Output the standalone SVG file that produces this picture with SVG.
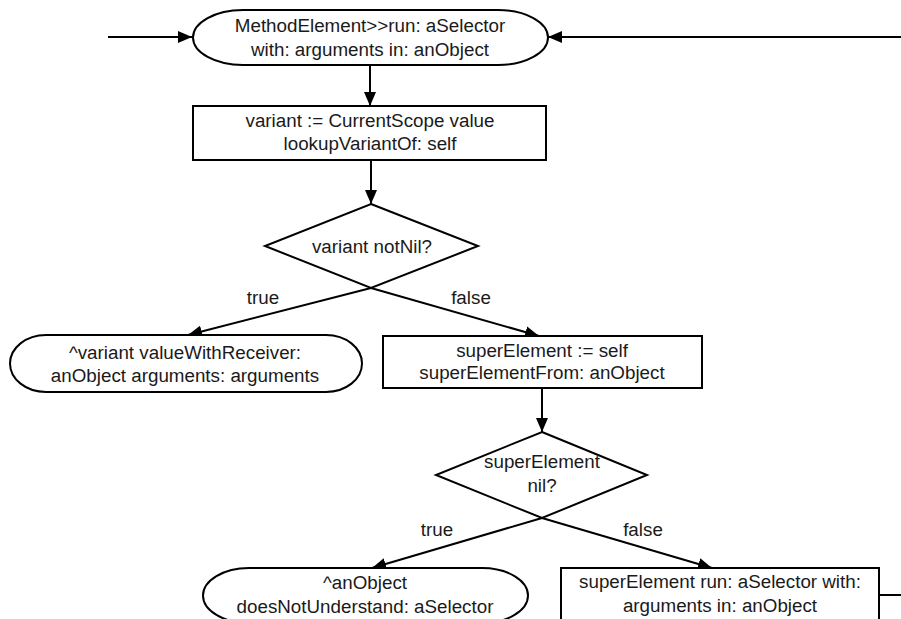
<svg xmlns="http://www.w3.org/2000/svg" width="901" height="619" viewBox="0 0 901 619">
  <defs>
    <style>
      .shape { fill: #ffffff; stroke: #000000; stroke-width: 2; }
      .edge { fill: none; stroke: #000000; stroke-width: 2; }
      .lbl { font-family: "Liberation Sans", Arial, Helvetica, sans-serif; font-size: 18.8px; fill: #1a1a1a; text-anchor: middle; }
    </style>
    <marker id="arrow" viewBox="0 0 14 12" refX="14" refY="6" markerWidth="14" markerHeight="12" markerUnits="userSpaceOnUse" orient="auto">
      <path d="M0,0 L14,6 L0,12 Z" fill="#000000"/>
    </marker>
  </defs>

  <rect width="901" height="619" fill="#ffffff"/>

  <!-- connectors -->
  <g id="connectors">
    <line class="edge" x1="108" y1="37" x2="192" y2="37" marker-end="url(#arrow)"/>
    <line class="edge" x1="901" y1="37" x2="548" y2="37" marker-end="url(#arrow)"/>
    <line class="edge" x1="370" y1="65" x2="370" y2="106" marker-end="url(#arrow)"/>
    <line class="edge" x1="371" y1="160" x2="371" y2="204" marker-end="url(#arrow)"/>
    <line class="edge" x1="371" y1="288" x2="188" y2="335" marker-end="url(#arrow)"/>
    <line class="edge" x1="371" y1="288" x2="539" y2="336" marker-end="url(#arrow)"/>
    <line class="edge" x1="542" y1="388" x2="542" y2="432" marker-end="url(#arrow)"/>
    <line class="edge" x1="542" y1="518" x2="372" y2="568" marker-end="url(#arrow)"/>
    <line class="edge" x1="542" y1="518" x2="712" y2="568" marker-end="url(#arrow)"/>
    <line class="edge" x1="879" y1="595" x2="901" y2="595"/>
    <text class="lbl" x="263" y="304">true</text>
    <text class="lbl" x="471" y="304">false</text>
    <text class="lbl" x="437" y="536">true</text>
    <text class="lbl" x="643" y="536">false</text>
  </g>

  <!-- start terminal -->
  <g id="start">
    <rect class="shape" x="193" y="10" width="355" height="55" rx="50" ry="27.5"/>
    <text class="lbl" x="370" y="32">MethodElement&gt;&gt;run: aSelector</text>
    <text class="lbl" x="370" y="56">with: arguments in: anObject</text>
  </g>

  <!-- variant lookup -->
  <g id="lookupVariant">
    <rect class="shape" x="193" y="106" width="353" height="54"/>
    <text class="lbl" x="370" y="127">variant := CurrentScope value</text>
    <text class="lbl" x="370" y="150">lookupVariantOf: self</text>
  </g>

  <!-- decision: variant notNil? -->
  <g id="variantNotNil">
    <polygon class="shape" points="371,204 478,246 371,288 265,246"/>
    <text class="lbl" x="372" y="253">variant notNil?</text>
  </g>

  <!-- return variant result -->
  <g id="returnVariant">
    <rect class="shape" x="10" y="335" width="352" height="57" rx="36" ry="28.5"/>
    <text class="lbl" x="185" y="359">^variant valueWithReceiver:</text>
    <text class="lbl" x="185" y="382">anObject arguments: arguments</text>
  </g>

  <!-- super element lookup -->
  <g id="superLookup">
    <rect class="shape" x="383" y="336" width="319" height="52"/>
    <text class="lbl" x="542" y="357">superElement := self</text>
    <text class="lbl" x="542" y="379">superElementFrom: anObject</text>
  </g>

  <!-- decision: superElement nil? -->
  <g id="superNil">
    <polygon class="shape" points="542,432 647,475 542,518 436,475"/>
    <text class="lbl" x="542" y="468">superElement</text>
    <text class="lbl" x="542" y="492">nil?</text>
  </g>

  <!-- not understood -->
  <g id="notUnderstood">
    <rect class="shape" x="203" y="568" width="325" height="55" rx="46" ry="27.5"/>
    <text class="lbl" x="365" y="589">^anObject</text>
    <text class="lbl" x="365" y="613">doesNotUnderstand: aSelector</text>
  </g>

  <!-- delegate to super element -->
  <g id="superRun">
    <rect class="shape" x="561" y="568" width="318" height="60"/>
    <text class="lbl" x="720" y="588">superElement run: aSelector with:</text>
    <text class="lbl" x="720" y="612">arguments in: anObject</text>
  </g>
</svg>
